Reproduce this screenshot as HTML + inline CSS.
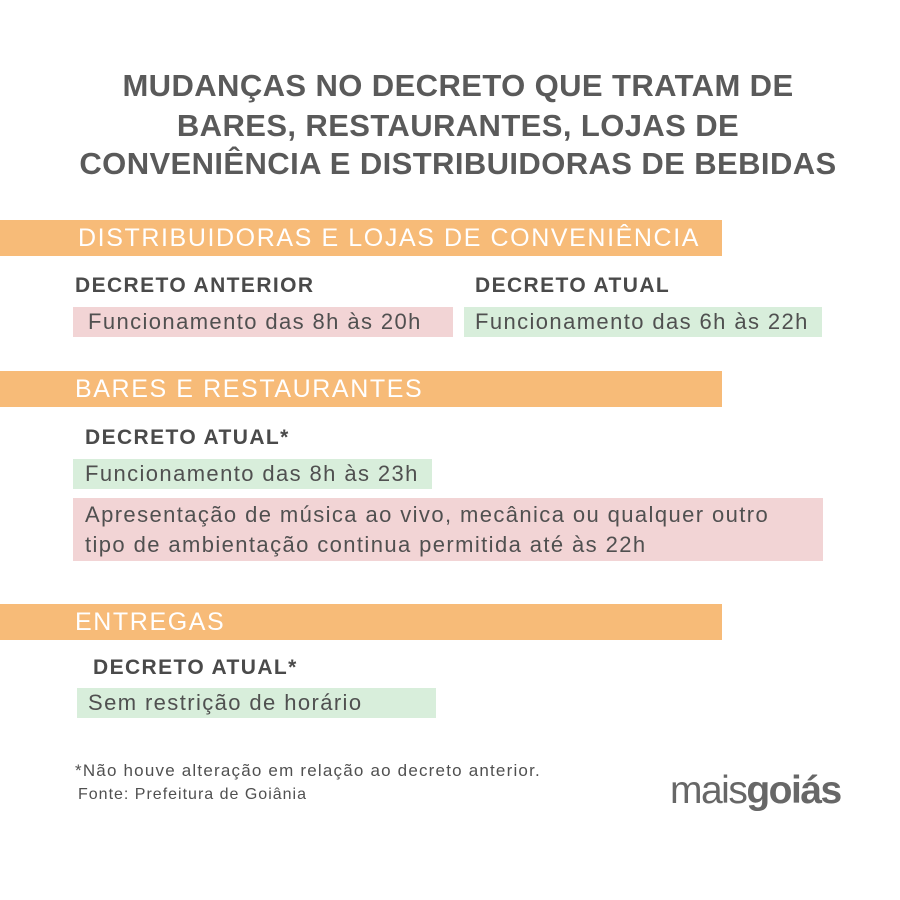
<!DOCTYPE html>
<html><head><meta charset="utf-8"><style>
body{margin:0;width:900px;height:900px;background:#fff;position:relative;overflow:hidden;font-family:"Liberation Sans",sans-serif;}
.a{position:absolute;white-space:nowrap;}
.t{left:8px;width:900px;text-align:center;font-weight:bold;font-size:31px;color:#5a5a5a;letter-spacing:0.4px;}
.bar{position:absolute;left:0;width:722px;height:36px;background:#f7bb78;}
.bt{position:absolute;left:78px;top:2px;color:#fff;font-size:25px;line-height:32px;white-space:nowrap;letter-spacing:1.6px;}
.h{font-weight:bold;font-size:21px;color:#4a4a4a;letter-spacing:1.4px;}
.box{position:absolute;font-size:22px;letter-spacing:1.4px;color:#505050;line-height:30px;white-space:nowrap;}
.p{background:#f2d4d5;}.g{background:#d8eedb;}
</style></head><body>
<div class="a t" style="top:68px">MUDANÇAS NO DECRETO QUE TRATAM DE</div>
<div class="a t" style="top:108px">BARES, RESTAURANTES, LOJAS DE</div>
<div class="a t" style="top:146px">CONVENIÊNCIA E DISTRIBUIDORAS DE BEBIDAS</div>

<div class="bar" style="top:220px"><div class="bt">DISTRIBUIDORAS E LOJAS DE CONVENIÊNCIA</div></div>
<div class="a h" style="left:75px;top:274px">DECRETO ANTERIOR</div>
<div class="a h" style="left:475px;top:274px">DECRETO ATUAL</div>
<div class="box p" style="left:73px;top:307px;width:365px;padding-left:15px">Funcionamento das 8h às 20h</div>
<div class="box g" style="left:464px;top:307px;width:347px;padding-left:11px">Funcionamento das 6h às 22h</div>

<div class="bar" style="top:371px"><div class="bt" style="left:75px">BARES E RESTAURANTES</div></div>
<div class="a h" style="left:85px;top:426px">DECRETO ATUAL*</div>
<div class="box g" style="left:73px;top:459px;width:347px;padding-left:12px">Funcionamento das 8h às 23h</div>
<div class="box p" style="left:73px;top:498px;height:63px;padding-left:12px;padding-top:2px;box-sizing:border-box;width:750px">Apresentação de música ao vivo, mecânica ou qualquer outro<br>tipo de ambientação continua permitida até às 22h</div>

<div class="bar" style="top:604px"><div class="bt" style="left:75px">ENTREGAS</div></div>
<div class="a h" style="left:93px;top:656px">DECRETO ATUAL*</div>
<div class="box g" style="left:77px;top:688px;width:348px;padding-left:11px">Sem restrição de horário</div>

<div class="a" style="left:75px;top:761px;font-size:17px;letter-spacing:1.2px;color:#505050">*Não houve alteração em relação ao decreto anterior.</div>
<div class="a" style="left:78px;top:786px;font-size:16px;letter-spacing:1px;color:#505050">Fonte: Prefeitura de Goiânia</div>
<div class="a" style="left:670px;top:771px;font-size:39px;color:#676767;letter-spacing:-1.5px;line-height:40px"><span>mais</span><span style="font-weight:bold">goiás</span></div>
</body></html>
